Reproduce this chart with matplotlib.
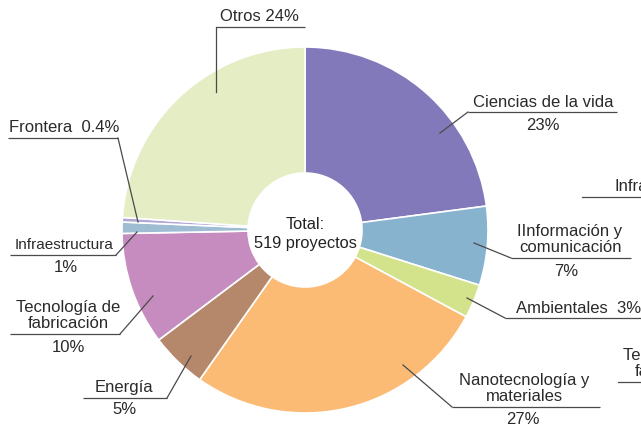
import matplotlib.pyplot as plt

plt.rcParams['font.family'] = ['Liberation Sans', 'DejaVu Sans']

# data (clockwise from the top)
sectores = ["Ciencias de la vida", "Información y comunicación", "Ambientales",
            "Nanotecnología y materiales", "Energía", "Tecnología de fabricación",
            "Infraestructura", "Frontera", "Otros"]
porcentajes = [23, 7, 3, 27, 5, 10, 1, 0.4, 24]
colores = ["#8279bb", "#88b3cf", "#d3e38b", "#fbbb75", "#b5876b",
           "#c78cbf", "#9ebdd3", "#b1a7d6", "#e4edc4"]

W, H = 641, 426
fig = plt.figure(figsize=(W / 100, H / 100), dpi=100)
ax = fig.add_axes([0, 0, 1, 1])

def y(v):
    # image coordinates -> axes coordinates
    return H - v

cx, cy, R = 305, y(230), 183
ax.pie(porcentajes, colors=colores, startangle=90, counterclock=False,
       center=(cx, cy), radius=R, frame=True,
       wedgeprops=dict(width=R - 57, edgecolor='white', linewidth=1.2))
ax.set_xlim(0, W)
ax.set_ylim(0, H)
ax.set_aspect('equal')
ax.axis('off')

ax.text(cx, y(234), "Total:\n519 proyectos", ha='center', va='center',
        fontsize=11.8, color='#222222', linespacing=1.3)

txt = '#2a2a2a'
lc = '#4a4a4a'
fs = 12

def label(text, tx, ty, pct, px, py, ux0, ux1, uy, lx, ly, size=fs):
    ax.text(tx, y(ty), text, ha='center', va='bottom', fontsize=size,
            color=txt, linespacing=1.12)
    if pct:
        ax.text(px, y(py), pct, ha='center', va='center', fontsize=fs, color=txt)
    ax.plot([ux0, ux1], [y(uy), y(uy)], color=lc, lw=0.9, solid_capstyle='butt')
    ax.plot([ux0 if abs(lx - ux0) < abs(lx - ux1) else ux1, lx], [y(uy), y(ly)],
            color=lc, lw=0.9)

label("Ciencias de la vida", 543, 110, "23%", 543, 126, 468, 617, 112, 440, 133)
label("IInformación y\ncomunicación", 570, 255, "7%", 566, 271, 511, 631, 258, 474, 243)
label("Ambientales  3%", 579, 316, None, 0, 0, 505, 645, 318, 467, 298)
label("Nanotecnología y\nmateriales", 524, 404, "27%", 523, 419, 452, 600, 407, 403, 365)
label("Energía", 124, 395, "5%", 124, 410, 83, 167, 398, 191, 356)
label("Tecnología de\nfabricación", 68, 331, "10%", 68, 347, 10, 120, 334, 153, 296)
label("Infraestructura", 64, 252, "1%", 66, 268, 10, 116, 255, 137, 232, size=11)
label("Frontera  0.4%", 64, 135, None, 0, 0, 8, 118, 138, 138, 222)
label("Otros 24%", 259, 24, None, 0, 0, 216, 305, 27, 216, 92)

# pieces of the neighbouring chart cut at the right edge
ax.text(615, y(194), "Infraestructura", ha='left', va='bottom', fontsize=fs, color=txt)
ax.plot([582, 645], [y(197), y(197)], color=lc, lw=0.9)
ax.text(675, y(379), "Tecnología de\nfabricación", ha='center', va='bottom',
        fontsize=fs, color=txt, linespacing=1.12)
ax.plot([618, 645], [y(382), y(382)], color=lc, lw=0.9)

fig.savefig("out.png", dpi=100)
